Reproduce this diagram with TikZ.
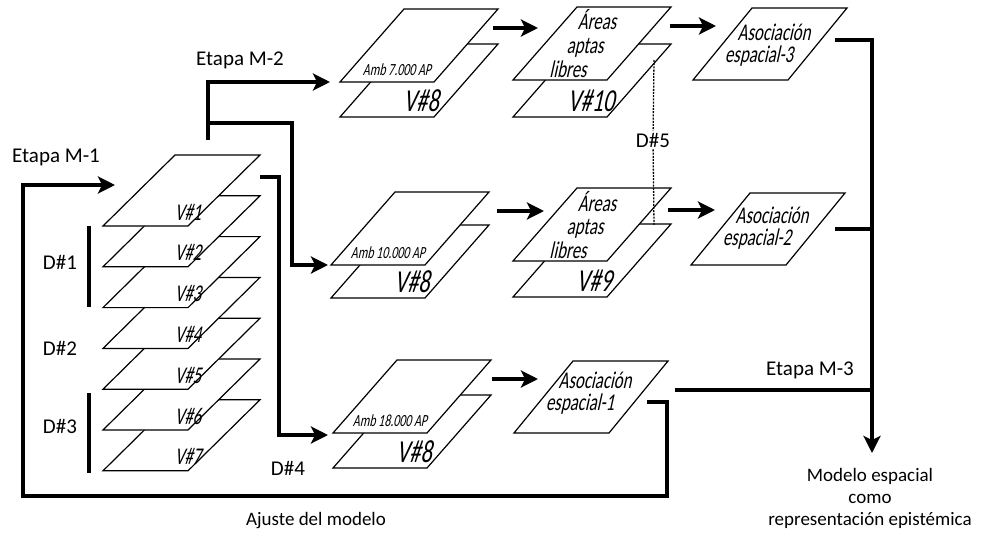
\documentclass[tikz,border=0pt]{standalone}
\usepackage{fontspec}
\setmainfont{Carlito}
\newfontfamily\sheetfont[FakeStretch=0.7, FakeSlant=0.22]{Carlito}
\usetikzlibrary{arrows.meta,calc}
\tikzset{
  sheet/.style={draw=black, fill=white, line width=1.2pt},
  conn/.style={line width=4.5pt},
  arrow/.style={conn, -{Stealth[length=17pt, width=17pt, inset=4pt]}},
  dbar/.style={line width=4pt},
  dotline/.style={line width=1.3pt, dash pattern=on 2pt off 1.2pt},
  stagetext/.style={font=\fontsize{21}{22}\selectfont},
  notetext/.style={font=\fontsize{19}{22}\selectfont},
  vlab/.style={font=\sheetfont\fontsize{24}{24}\selectfont, inner sep=0pt},
  biglab/.style={font=\sheetfont\fontsize{32}{32}\selectfont, inner sep=0pt},
  ilab/.style={font=\sheetfont\fontsize{24}{24}\selectfont, inner sep=0pt, anchor=base},
  amblab/.style={font=\sheetfont\fontsize{17}{17}\selectfont, inner sep=0pt}
}
% one sheet: name, bottom left corner (size from \sw, \ss, \sh)
\newcommand{\drawsheet}[2]{%
  \draw[sheet] (#2) coordinate (#1-bl) -- ++(\sw,0) coordinate (#1-br)
    -- ++(\ss,-\sh) coordinate (#1-tr) -- ++(-\sw,0) coordinate (#1-tl) -- cycle;}

\begin{document}
\begin{tikzpicture}[x=1pt, y=-1pt]
  \useasboundingbox (0,0) rectangle (986,538);

  % left stack V#1 ... V#7
  \def\sw{85}\def\ss{72}\def\sh{71}
  \foreach \k in {7,6,...,1}{%
    \drawsheet{v\k}{103,{226+40.8*(\k-1)}}
    \node[vlab] (v\k-lab) at ([shift={(85,-14)}]v\k-bl) {V\#\k};
  }

  % ambit sheets
  \def\sw{94}\def\ss{64}\def\sh{73}
  \drawsheet{amb7v}{340,117}
  \node[biglab] (amb7v-lab) at ([shift={(81,-16)}]amb7v-bl) {V\#8};
  \drawsheet{amb7}{340,82}
  \node[amblab] (amb7-lab) at ([shift={(57,-12)}]amb7-bl) {Amb 7.000 AP};

  \drawsheet{amb10v}{331,298}
  \node[biglab] (amb10v-lab) at ([shift={(81,-16)}]amb10v-bl) {V\#8};
  \drawsheet{amb10}{331,265}
  \node[amblab] (amb10-lab) at ([shift={(57,-12)}]amb10-bl) {Amb 10.000 AP};

  \drawsheet{amb18v}{333,468}
  \node[biglab] (amb18v-lab) at ([shift={(81,-16)}]amb18v-bl) {V\#8};
  \drawsheet{amb18}{333,433}
  \node[amblab] (amb18-lab) at ([shift={(57,-12)}]amb18-bl) {Amb 18.000 AP};

  % free suitable areas
  \drawsheet{areas1v}{513,117}
  \node[biglab] (areas1v-lab) at ([shift={(78,-16)}]areas1v-bl) {V\#10};
  \drawsheet{areas1}{513,80}
  \node[ilab] (areas1-l1) at ([shift={(84,-50)}]areas1-bl) {Áreas};
  \node[ilab] (areas1-l2) at ([shift={(72,-27)}]areas1-bl) {aptas};
  \node[ilab] (areas1-l3) at ([shift={(55,-3)}]areas1-bl) {libres};

  \drawsheet{areas2v}{513,297}
  \node[biglab] (areas2v-lab) at ([shift={(81,-16)}]areas2v-bl) {V\#9};
  \drawsheet{areas2}{513,261}
  \node[ilab] (areas2-l1) at ([shift={(84,-50)}]areas2-bl) {Áreas};
  \node[ilab] (areas2-l2) at ([shift={(72,-27)}]areas2-bl) {aptas};
  \node[ilab] (areas2-l3) at ([shift={(55,-3)}]areas2-bl) {libres};

  % spatial associations
  \def\sw{95}\def\ss{59}\def\sh{72}
  \drawsheet{asoc3}{693,80}
  \node[ilab] (asoc3-l1) at ([shift={(81,-40)}]asoc3-bl) {Asociación};
  \node[ilab] (asoc3-l2) at ([shift={(66,-18)}]asoc3-bl) {espacial-3};
  \drawsheet{asoc2}{691,265}
  \node[ilab] (asoc2-l1) at ([shift={(81,-42)}]asoc2-bl) {Asociación};
  \node[ilab] (asoc2-l2) at ([shift={(66,-20)}]asoc2-bl) {espacial-2};
  \drawsheet{asoc1}{514,433}
  \node[ilab] (asoc1-l1) at ([shift={(81,-45)}]asoc1-bl) {Asociación};
  \node[ilab] (asoc1-l2) at ([shift={(66,-23)}]asoc1-bl) {espacial-1};

  % texts
  \node[stagetext] (m1) at (56,157) {Etapa M-1};
  \node[stagetext] (m2) at (240,60) {Etapa M-2};
  \node[stagetext] (m3) at (810,370) {Etapa M-3};
  \node[stagetext] (d1) at (60,262) {D\#1};
  \node[stagetext] (d2) at (60,348) {D\#2};
  \node[stagetext] (d3) at (60,426) {D\#3};
  \node[stagetext] (d4) at (288,468) {D\#4};
  \node[stagetext, fill=white, inner sep=2pt] (d5) at (653,140) {D\#5};
  \node[notetext] (ajuste) at (316,521) {Ajuste del modelo};
  \node[notetext, align=center] (modelo) at (870,498) {Modelo espacial\\como\\representación epistémica};

  \draw[dbar] (89,226) -- (89,307);
  \draw[dbar] (89,393) -- (89,473);

  % stage M-1 and model adjustment loop
  \coordinate (m1tip) at (115,185);
  \coordinate (fb) at (647,402);
  \coordinate (loopR) at (667,496);
  \coordinate (loopL) at (23,496);
  \draw[arrow] (fb) -| (loopR) -- (loopL) |- (m1tip);

  % stage M-2
  \coordinate (m2root) at (208,140);
  \coordinate (m2split) at (208,123);
  \coordinate (amb7in) at (330,82);
  \coordinate (m2drop) at (292,265);
  \coordinate (amb10in) at (328,265);
  \draw[arrow] (m2root) |- (amb7in);
  \draw[arrow] (m2split) -| (m2drop) -- (amb10in);

  \coordinate (v1out) at (260,177);
  \coordinate (d4drop) at (279,435);
  \coordinate (amb18in) at (328,435);
  \draw[arrow] (v1out) -| (d4drop) -- (amb18in);

  % row arrows
  \draw[arrow] ([shift={(-5,19)}]amb7-tr) -- ++(45,0);
  \draw[arrow] ([shift={(-1,19)}]areas1-tr) -- ++(46,0);
  \draw[arrow] ([shift={(8,19)}]amb10-tr) -- ++(47,0);
  \draw[arrow] ([shift={(-3,22)}]areas2-tr) -- ++(47,0);
  \draw[arrow] ([shift={(1,19)}]amb18-tr) -- ++(46,0);

  % D#5
  \coordinate (d5top) at (654,60);
  \coordinate (d5bot) at (654,225);
  \draw[dotline] (d5top) -- (d5) -- (d5bot);

  % stage M-3
  \coordinate (asoc3out) at (835,40);
  \coordinate (asoc2out) at (835,229);
  \coordinate (m3start) at (675,390);
  \coordinate (busend) at (872,453);
  \draw[arrow] (asoc3out) -| (busend);
  \draw[conn] (asoc2out) -- (asoc2out -| busend);
  \draw[conn] (m3start) -- (m3start -| busend);
\end{tikzpicture}
\end{document}
